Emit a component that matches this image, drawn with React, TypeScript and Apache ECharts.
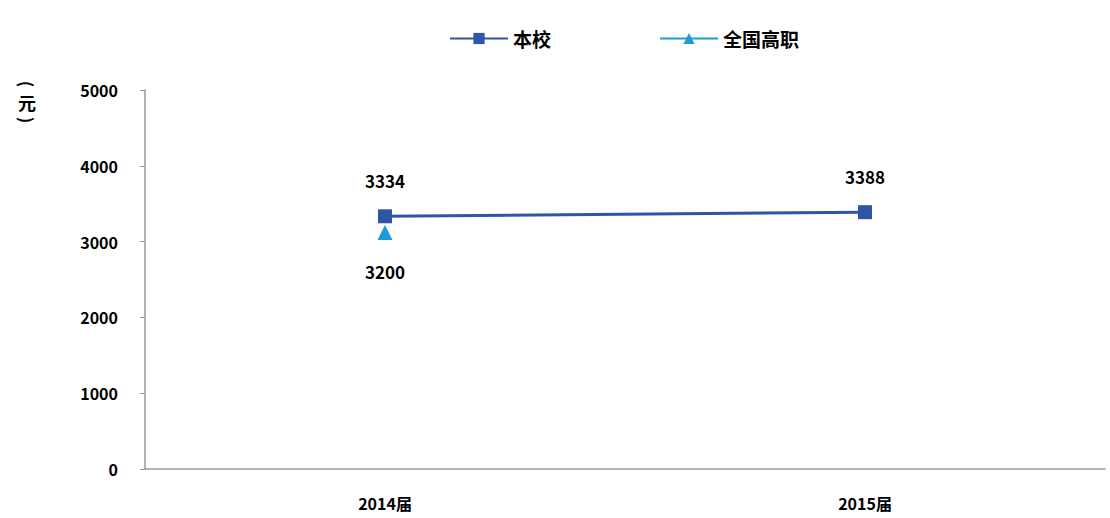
import React, { useEffect, useRef } from "react";
import * as echarts from "echarts";

const categories = ["2014届", "2015届"];
const schoolValues = [3334, 3388];
const nationalValues: (number | null)[] = [3200, null];
const yTicks = [0, 1000, 2000, 3000, 4000, 5000];
const seriesNames = ["本校", "全国高职"];

export default function App() {
  const ref = useRef<HTMLDivElement>(null);
  useEffect(() => {
    const chart = echarts.init(ref.current!, null, { renderer: "svg" });
    const font = "'Microsoft YaHei', 'Noto Sans CJK SC', sans-serif";
    chart.setOption({
      animation: false,
      backgroundColor: "#ffffff",
      textStyle: { fontFamily: font },
      legend: {
        top: 24,
        left: 444,
        itemWidth: 58,
        itemHeight: 14,
        itemGap: 108,
        textStyle: { fontSize: 19, fontWeight: "bold", color: "#000", fontFamily: font },
        data: [seriesNames[0], seriesNames[1]],
      },
      grid: { left: 145, right: 5, top: 90, bottom: 49 },
      xAxis: {
        type: "category",
        data: categories,
        boundaryGap: true,
        axisLine: { lineStyle: { color: "#999", width: 1.5 } },
        axisTick: { inside: true, length: 10, lineStyle: { color: "#888" } },
        axisLabel: { margin: 26, fontSize: 16, fontWeight: "bold", color: "#000", fontFamily: font },
      },
      yAxis: {
        type: "value",
        min: yTicks[0],
        max: yTicks[yTicks.length - 1],
        interval: 1000,
        splitLine: { show: false },
        axisLine: { show: true, lineStyle: { color: "#999", width: 1.5 } },
        axisTick: { show: true, length: 5, lineStyle: { color: "#999" } },
        axisLabel: {
          margin: 27,
          fontSize: 16,
          fontWeight: "bold",
          color: "#000",
          fontFamily: font,
          formatter: (v: number) => String(v),
        },
      },
      graphic: [
        {
          type: "text",
          x: 27,
          y: 84,
          rotation: -Math.PI / 2,
          style: {
            text: "(",
            fontSize: 17,
            fontWeight: "bold",
            fill: "#000",
            fontFamily: font,
            align: "center",
            verticalAlign: "middle",
          },
        },
        {
          type: "text",
          x: 27,
          y: 102,
          style: {
            text: "元",
            fontSize: 18,
            fontWeight: "bold",
            fill: "#000",
            fontFamily: font,
            align: "center",
            verticalAlign: "middle",
          },
        },
        {
          type: "text",
          x: 27,
          y: 120,
          rotation: -Math.PI / 2,
          style: {
            text: ")",
            fontSize: 17,
            fontWeight: "bold",
            fill: "#000",
            fontFamily: font,
            align: "center",
            verticalAlign: "middle",
          },
        },
      ],
      series: [
        {
          name: seriesNames[0],
          type: "line",
          data: schoolValues,
          symbol: "rect",
          symbolSize: 14,
          itemStyle: { color: "#2F55A8" },
          lineStyle: { color: "#2F55A8", width: 3 },
          label: {
            show: true,
            position: "top",
            distance: 20,
            fontSize: 17,
            fontWeight: "bold",
            color: "#000",
            fontFamily: font,
          },
        },
        {
          name: seriesNames[1],
          type: "line",
          data: nationalValues,
          symbol: "triangle",
          symbolSize: 15,
          symbolOffset: [0, 6],
          itemStyle: { color: "#1E9AD8" },
          lineStyle: { color: "#1E9AD8", width: 3 },
          label: {
            show: true,
            position: "bottom",
            distance: 23,
            fontSize: 17,
            fontWeight: "bold",
            color: "#000",
            fontFamily: font,
          },
        },
      ],
    });
    return () => chart.dispose();
  }, []);
  return (
    <div
      ref={ref}
      style={{ position: "absolute", left: 0, top: 0, width: 1110, height: 518 }}
    />
  );
}
